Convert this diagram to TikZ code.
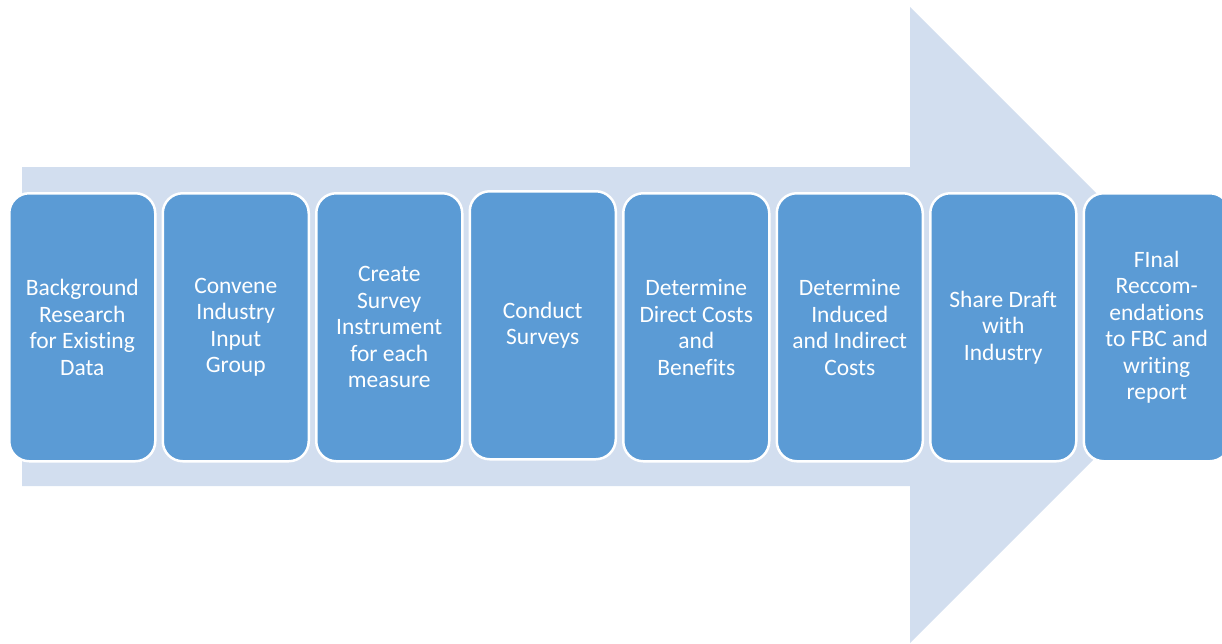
\documentclass[tikz,border=0pt]{standalone}
\usepackage{fontspec}
\setmainfont[Ligatures={NoCommon}]{Carlito}
\definecolor{boxblue}{HTML}{5B9BD5}
\definecolor{arrowblue}{HTML}{D2DEEF}
\begin{document}
\begin{tikzpicture}[x=1pt,y=-1pt,
  stepbox/.style={draw=white, line width=2.5pt, fill=boxblue, rounded corners=20pt,
    minimum width=146pt, minimum height=268pt, inner sep=0pt, anchor=north west,
    text=white, align=center, font=\fontsize{23.5}{26.5}\selectfont}]
\useasboundingbox (0,0) rectangle (1222,643);
\clip (0,0) rectangle (1222,643);
% big arrow
\fill[arrowblue] (22,167) -- (910,167) -- (910,7) -- (1228,325) -- (910,643) -- (910,486) -- (22,486) -- cycle;
% steps
\node[stepbox] (b1) at (8,192) {Background\\Research\\for Existing\\Data};
\node[stepbox] (b2) at (161.5,192) {Convene\\Industry\\Input\\Group};
\node[stepbox] (b3) at (315,192) {Create\\Survey\\Instrument\\for each\\measure};
\node[stepbox] (b4) at (468.5,190) {Conduct\\Surveys};
\node[stepbox] (b5) at (622,192) {Determine\\Direct Costs\\and\\Benefits};
\node[stepbox] (b6) at (775.5,192) {Determine\\Induced\\and Indirect\\Costs};
\node[stepbox] (b7) at (929,192) {Share Draft\\with\\Industry};
\node[stepbox] (b8) at (1082.5,192) {FInal\\Reccom-\\endations\\to FBC and\\writing\\report};
\end{tikzpicture}
\end{document}
